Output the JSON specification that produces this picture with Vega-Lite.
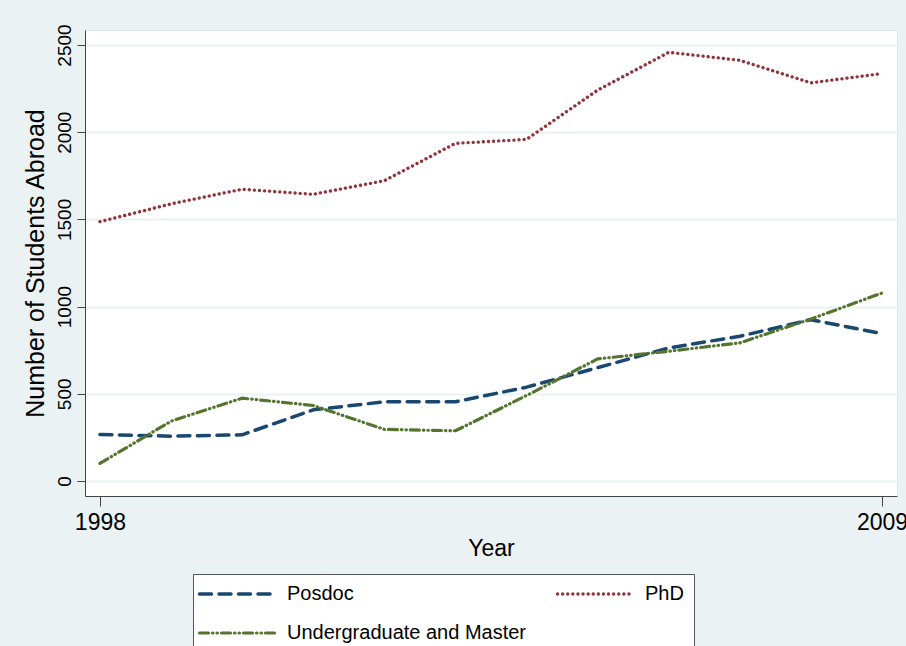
{
  "$schema": "https://vega.github.io/schema/vega-lite/v6.json",
  "width": 812,
  "height": 466,
  "autosize": {"type": "none"},
  "padding": {"left": 85, "top": 30, "right": 9, "bottom": 150},
  "background": "#EAF2F3",
  "config": {
    "font": "Liberation Sans",
    "view": {"fill": "white", "stroke": "#DCE5E9", "strokeWidth": 1},
    "axis": {"labelColor": "#000", "titleColor": "#000", "domainColor": "#444", "tickColor": "#444", "labelFont": "Liberation Sans", "titleFont": "Liberation Sans", "titleFontWeight": "normal"}
  },
  "data": {"values": [
    {"year": 1998, "level": "Posdoc", "n": 267},
    {"year": 1999, "level": "Posdoc", "n": 257},
    {"year": 2000, "level": "Posdoc", "n": 265},
    {"year": 2001, "level": "Posdoc", "n": 408},
    {"year": 2002, "level": "Posdoc", "n": 454},
    {"year": 2003, "level": "Posdoc", "n": 454},
    {"year": 2004, "level": "Posdoc", "n": 538},
    {"year": 2005, "level": "Posdoc", "n": 650},
    {"year": 2006, "level": "Posdoc", "n": 763},
    {"year": 2007, "level": "Posdoc", "n": 830},
    {"year": 2008, "level": "Posdoc", "n": 925},
    {"year": 2009, "level": "Posdoc", "n": 845},
    {"year": 1998, "level": "PhD", "n": 1487},
    {"year": 1999, "level": "PhD", "n": 1589},
    {"year": 2000, "level": "PhD", "n": 1673},
    {"year": 2001, "level": "PhD", "n": 1644},
    {"year": 2002, "level": "PhD", "n": 1722},
    {"year": 2003, "level": "PhD", "n": 1936},
    {"year": 2004, "level": "PhD", "n": 1959},
    {"year": 2005, "level": "PhD", "n": 2241},
    {"year": 2006, "level": "PhD", "n": 2458},
    {"year": 2007, "level": "PhD", "n": 2412},
    {"year": 2008, "level": "PhD", "n": 2283},
    {"year": 2009, "level": "PhD", "n": 2336},
    {"year": 1998, "level": "Undergraduate and Master", "n": 101},
    {"year": 1999, "level": "Undergraduate and Master", "n": 343},
    {"year": 2000, "level": "Undergraduate and Master", "n": 475},
    {"year": 2001, "level": "Undergraduate and Master", "n": 433},
    {"year": 2002, "level": "Undergraduate and Master", "n": 296},
    {"year": 2003, "level": "Undergraduate and Master", "n": 288},
    {"year": 2004, "level": "Undergraduate and Master", "n": 490},
    {"year": 2005, "level": "Undergraduate and Master", "n": 700},
    {"year": 2006, "level": "Undergraduate and Master", "n": 744},
    {"year": 2007, "level": "Undergraduate and Master", "n": 792},
    {"year": 2008, "level": "Undergraduate and Master", "n": 929},
    {"year": 2009, "level": "Undergraduate and Master", "n": 1078}
  ]},
  "mark": {"type": "line", "strokeCap": "round", "strokeJoin": "round", "clip": true},
  "encoding": {
    "x": {
      "field": "year", "type": "quantitative",
      "scale": {"domain": [1997.79, 2009.21], "nice": false, "zero": false},
      "axis": {"values": [1998, 2009], "format": "d", "grid": false, "title": "Year", "titleFontSize": 23, "titlePadding": 3, "labelFontSize": 23, "labelPadding": 5, "tickSize": 10, "labelOverlap": false, "labelFlush": false}
    },
    "y": {
      "field": "n", "type": "quantitative",
      "scale": {"domain": [-86, 2586], "nice": false, "zero": false},
      "axis": {"values": [0, 500, 1000, 1500, 2000, 2500], "format": "d", "grid": true, "gridColor": "#EAF2F3", "gridWidth": 2, "title": "Number of Students Abroad", "titleFontSize": 25, "titlePadding": 7, "labelFontSize": 19, "labelAngle": -90, "labelAlign": "center", "labelBaseline": "bottom", "labelPadding": 3, "tickSize": 8}
    },
    "color": {
      "field": "level", "type": "nominal",
      "scale": {"domain": ["Posdoc", "PhD", "Undergraduate and Master"], "range": ["#1A476F", "#90353B", "#55752F"]},
      "legend": {"title": null, "orient": "none", "direction": "horizontal", "legendX": 108, "legendY": 544, "columns": 2, "symbolType": "M-5,0L5,0", "symbolSize": 225, "symbolOffset": 24, "labelOffset": 40, "labelLimit": 400, "labelFontSize": 20, "labelColor": "#000", "fillColor": "white", "strokeColor": "#555", "padding": 10, "columnPadding": 23, "rowPadding": 19,
        "encode": {"symbols": {"update": {"strokeCap": {"value": "round"}}}}}
    },
    "strokeDash": {
      "field": "level", "type": "nominal",
      "scale": {"domain": ["Posdoc", "PhD", "Undergraduate and Master"], "range": [[12, 7.5], [0.1, 5], [9, 4, 0.5, 4, 0.5, 4]]},
      "legend": {"title": null}
    },
    "strokeWidth": {
      "field": "level", "type": "nominal",
      "scale": {"domain": ["Posdoc", "PhD", "Undergraduate and Master"], "range": [3.5, 3.2, 1.4]},
      "legend": {"title": null}
    }
  }
}
